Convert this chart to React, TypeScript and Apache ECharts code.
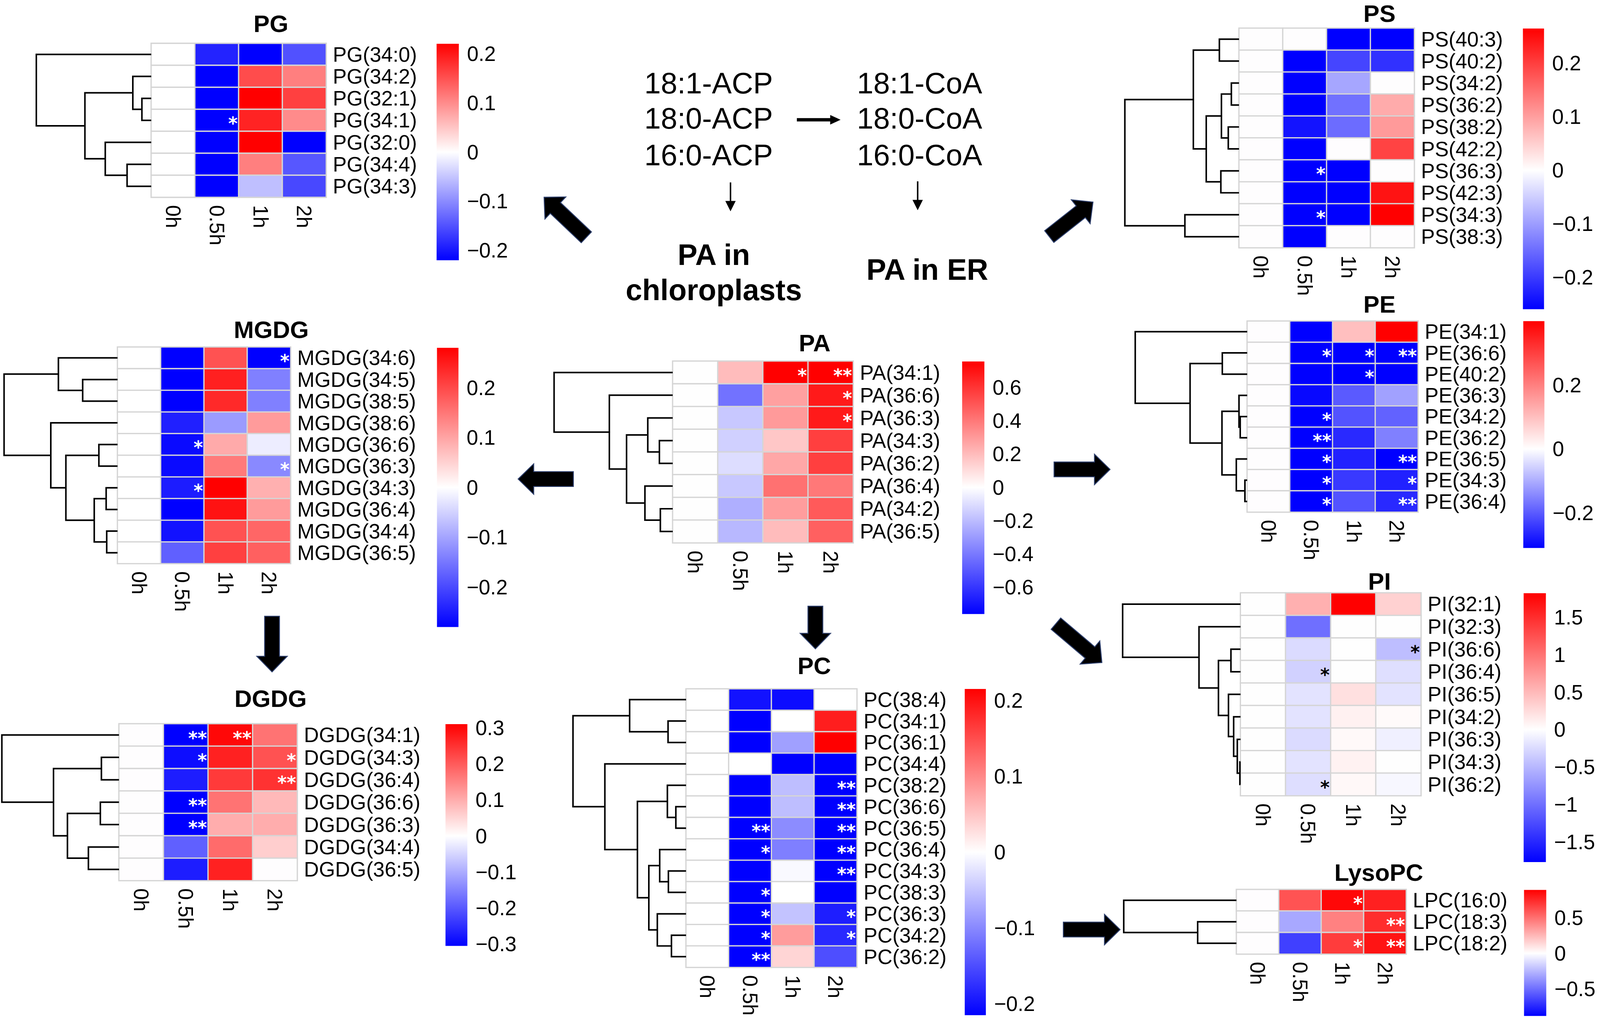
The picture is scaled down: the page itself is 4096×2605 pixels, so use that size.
import React, { useEffect, useRef } from 'react';
import * as echarts from 'echarts';

const S = 4096 / 4317;
const FONT = '"Liberation Sans", Arial, Helvetica, sans-serif';
const STAR_FONT = '"DejaVu Sans", "Liberation Sans", sans-serif';
const TIMES = ['0h', '0.5h', '1h', '2h'];

// ---------------- PG ----------------
const PG_ROWS = ['PG(34:0)', 'PG(34:2)', 'PG(32:1)', 'PG(34:1)', 'PG(32:0)', 'PG(34:4)', 'PG(34:3)'];
const PG_VALUES = [
  [0, -0.19, -0.22, -0.15],
  [0, -0.22, 0.155, 0.11],
  [0, -0.22, 0.22, 0.165],
  [0, -0.22, 0.19, 0.1],
  [0, -0.22, 0.22, -0.22],
  [0, -0.22, 0.11, -0.145],
  [0, -0.22, -0.055, -0.158],
];
const PG_STARS = [[3, 1, '*']];
const PG_MERGES = [[2, 3, 0.081], [1, 7, 0.16], [5, 6, 0.21], [4, 9, 0.4], [8, 10, 0.577], [0, 11, 1]];
const PG_RANGE = [-0.22, 0.22];
const PG_TICKS = [-0.2, -0.1, 0, 0.1, 0.2];

// ---------------- PS ----------------
const PS_ROWS = ['PS(40:3)', 'PS(40:2)', 'PS(34:2)', 'PS(36:2)', 'PS(38:2)', 'PS(42:2)', 'PS(36:3)', 'PS(42:3)', 'PS(34:3)', 'PS(38:3)'];
const PS_VALUES = [
  [0, 0, -0.26, -0.26],
  [0, -0.26, -0.19, -0.21],
  [0, -0.26, -0.09, 0],
  [0, -0.26, -0.145, 0.087],
  [0, -0.24, -0.15, 0.105],
  [0, -0.26, 0, 0.195],
  [0, -0.26, -0.26, 0],
  [0, -0.26, -0.26, 0.245],
  [0, -0.26, -0.26, 0.265],
  [0, -0.26, 0, 0],
];
const PS_STARS = [[6, 1, '*'], [8, 1, '*']];
const PS_MERGES = [[0, 1, 0.172], [2, 3, 0.067], [4, 5, 0.094], [11, 12, 0.154], [6, 7, 0.159], [13, 14, 0.287], [10, 15, 0.4], [8, 9, 0.474], [16, 17, 1]];
const PS_RANGE = [-0.26, 0.265];
const PS_TICKS = [-0.2, -0.1, 0, 0.1, 0.2];

// ---------------- MGDG ----------------
const MGDG_ROWS = ['MGDG(34:6)', 'MGDG(34:5)', 'MGDG(38:5)', 'MGDG(38:6)', 'MGDG(36:6)', 'MGDG(36:3)', 'MGDG(34:3)', 'MGDG(36:4)', 'MGDG(34:4)', 'MGDG(36:5)'];
const MGDG_VALUES = [
  [0, -0.28, 0.19, -0.28],
  [0, -0.28, 0.245, -0.14],
  [0, -0.28, 0.235, -0.14],
  [0, -0.245, -0.11, 0.11],
  [0, -0.27, 0.093, -0.02],
  [0, -0.27, 0.146, -0.13],
  [0, -0.25, 0.28, 0.087],
  [0, -0.28, 0.26, 0.11],
  [0, -0.26, 0.19, 0.168],
  [0, -0.175, 0.21, 0.175],
];
const MGDG_STARS = [[0, 3, '*'], [4, 1, '*'], [5, 3, '*'], [6, 1, '*']];
const MGDG_MERGES = [[1, 2, 0.307], [0, 10, 0.521], [4, 5, 0.164], [6, 7, 0.1], [8, 9, 0.095], [13, 14, 0.205], [12, 15, 0.455], [3, 16, 0.588], [11, 17, 1]];
const MGDG_RANGE = [-0.28, 0.28];
const MGDG_TICKS = [-0.2, -0.1, 0, 0.1, 0.2];

// ---------------- PA ----------------
const PA_ROWS = ['PA(34:1)', 'PA(36:6)', 'PA(36:3)', 'PA(34:3)', 'PA(36:2)', 'PA(36:4)', 'PA(34:2)', 'PA(36:5)'];
const PA_VALUES = [
  [0, 0.2, 0.755, 0.755],
  [0, -0.42, 0.28, 0.68],
  [0, -0.165, 0.3, 0.68],
  [0, -0.14, 0.165, 0.57],
  [0, -0.1, 0.26, 0.57],
  [0, -0.165, 0.42, 0.4],
  [0, -0.24, 0.29, 0.49],
  [0, -0.21, 0.2, 0.47],
];
const PA_STARS = [[0, 2, '*'], [0, 3, '**'], [1, 3, '*'], [2, 3, '*']];
const PA_MERGES = [[3, 4, 0.112], [2, 8, 0.21], [6, 7, 0.104], [5, 10, 0.234], [9, 11, 0.389], [1, 12, 0.534], [0, 13, 1]];
const PA_RANGE = [-0.76, 0.755];
const PA_TICKS = [-0.6, -0.4, -0.2, 0, 0.2, 0.4, 0.6];

// ---------------- PE ----------------
const PE_ROWS = ['PE(34:1)', 'PE(36:6)', 'PE(40:2)', 'PE(36:3)', 'PE(34:2)', 'PE(36:2)', 'PE(36:5)', 'PE(34:3)', 'PE(36:4)'];
const PE_VALUES = [
  [0, -0.31, 0.1, 0.4],
  [0, -0.31, -0.31, -0.31],
  [0, -0.31, -0.31, -0.31],
  [0, -0.3, -0.2, -0.115],
  [0, -0.31, -0.21, -0.19],
  [0, -0.31, -0.26, -0.155],
  [0, -0.31, -0.27, -0.31],
  [0, -0.31, -0.24, -0.27],
  [0, -0.31, -0.21, -0.26],
];
const PE_STARS = [[1, 1, '*'], [1, 2, '*'], [1, 3, '**'], [2, 2, '*'], [4, 1, '*'], [5, 1, '**'], [6, 1, '*'], [6, 3, '**'], [7, 1, '*'], [7, 3, '*'], [8, 1, '*'], [8, 3, '**']];
const PE_MERGES = [[1, 2, 0.222], [4, 5, 0.062], [3, 10, 0.073], [7, 8, 0.02], [6, 12, 0.097], [11, 13, 0.225], [9, 14, 0.51], [0, 15, 1]];
const PE_RANGE = [-0.31, 0.4];
const PE_TICKS = [-0.2, 0, 0.2];

// ---------------- DGDG ----------------
const DGDG_ROWS = ['DGDG(34:1)', 'DGDG(34:3)', 'DGDG(36:4)', 'DGDG(36:6)', 'DGDG(36:3)', 'DGDG(34:4)', 'DGDG(36:5)'];
const DGDG_VALUES = [
  [0, -0.305, 0.3, 0.17],
  [0, -0.29, 0.27, 0.21],
  [0, -0.27, 0.24, 0.25],
  [0, -0.305, 0.17, 0.085],
  [0, -0.305, 0.1, 0.1],
  [0, -0.19, 0.18, 0.06],
  [0, -0.27, 0.27, 0],
];
const DGDG_STARS = [[0, 1, '**'], [0, 2, '**'], [1, 1, '*'], [1, 3, '*'], [2, 3, '**'], [3, 1, '**'], [4, 1, '**']];
const DGDG_MERGES = [[1, 2, 0.15], [3, 4, 0.159], [5, 6, 0.261], [8, 9, 0.44], [7, 10, 0.559], [0, 11, 1]];
const DGDG_RANGE = [-0.305, 0.31];
const DGDG_TICKS = [-0.3, -0.2, -0.1, 0, 0.1, 0.2, 0.3];

// ---------------- PC ----------------
const PC_ROWS = ['PC(38:4)', 'PC(34:1)', 'PC(36:1)', 'PC(34:4)', 'PC(38:2)', 'PC(36:6)', 'PC(36:5)', 'PC(36:4)', 'PC(34:3)', 'PC(38:3)', 'PC(36:3)', 'PC(34:2)', 'PC(36:2)'];
const PC_VALUES = [
  [0, -0.2, -0.205, 0],
  [0, -0.215, 0, 0.19],
  [0, -0.215, -0.08, 0.215],
  [0, 0, -0.215, -0.215],
  [0, -0.215, -0.055, -0.215],
  [0, -0.215, -0.055, -0.215],
  [0, -0.215, -0.097, -0.215],
  [0, -0.215, -0.108, -0.215],
  [0, -0.215, -0.005, -0.215],
  [0, -0.215, 0, -0.215],
  [0, -0.215, -0.05, -0.19],
  [0, -0.215, 0.083, -0.18],
  [0, -0.215, 0.036, -0.15],
];
const PC_STARS = [[4, 3, '**'], [5, 3, '**'], [6, 1, '**'], [6, 3, '**'], [7, 1, '*'], [7, 3, '**'], [8, 3, '**'], [9, 1, '*'], [10, 1, '*'], [10, 3, '*'], [11, 1, '*'], [11, 3, '*'], [12, 1, '**']];
const PC_MERGES = [[1, 2, 0.159], [0, 13, 0.499], [5, 6, 0.09], [4, 15, 0.165], [8, 9, 0.156], [7, 17, 0.233], [11, 12, 0.129], [10, 19, 0.254], [18, 20, 0.329], [16, 21, 0.43], [3, 22, 0.718], [14, 23, 1]];
const PC_RANGE = [-0.215, 0.215];
const PC_TICKS = [-0.2, -0.1, 0, 0.1, 0.2];

// ---------------- PI ----------------
const PI_ROWS = ['PI(32:1)', 'PI(32:3)', 'PI(36:6)', 'PI(36:4)', 'PI(36:5)', 'PI(34:2)', 'PI(36:3)', 'PI(34:3)', 'PI(36:2)'];
const PI_VALUES = [
  [0, 0.56, 1.82, 0.33],
  [0, -1.0, 0, 0],
  [0, -0.25, 0, -0.45],
  [0, -0.32, 0, -0.22],
  [0, -0.19, 0.22, -0.19],
  [0, -0.19, 0.1, 0.03],
  [0, -0.25, 0.04, -0.1],
  [0, -0.19, 0.09, 0],
  [0, -0.23, 0.05, -0.06],
];
const PI_STARS = [[2, 3, '*'], [3, 1, '*'], [8, 1, '*']];
const PI_MERGES = [[2, 3, 0.081], [7, 8, 0.005], [6, 10, 0.027], [5, 11, 0.058], [4, 12, 0.102], [9, 13, 0.187], [1, 14, 0.352], [0, 15, 1]];
const PI_RANGE = [-1.77, 1.82];
const PI_TICKS = [-1.5, -1, -0.5, 0, 0.5, 1, 1.5];

// ---------------- LysoPC ----------------
const LPC_ROWS = ['LPC(16:0)', 'LPC(18:3)', 'LPC(18:2)'];
const LPC_VALUES = [
  [0, 0.6, 0.86, 0.78],
  [0, -0.3, 0.44, 0.73],
  [0, -0.66, 0.68, 0.82],
];
const LPC_STARS = [[0, 2, '*'], [1, 3, '**'], [2, 2, '*'], [2, 3, '**']];
const LPC_MERGES = [[1, 2, 0.344], [0, 3, 1]];
const LPC_RANGE = [-0.88, 0.89];
const LPC_TICKS = [-0.5, 0, 0.5];

// ---------------- pathway texts ----------------
const ACP_LABELS = ['18:1-ACP', '18:0-ACP', '16:0-ACP'];
const COA_LABELS = ['18:1-CoA', '18:0-CoA', '16:0-CoA'];

const PANELS = [
  { name: 'PG', rows: PG_ROWS, values: PG_VALUES, stars: PG_STARS, merges: PG_MERGES, range: PG_RANGE, ticks: PG_TICKS, starColor: '#ffffff' },
  { name: 'PS', rows: PS_ROWS, values: PS_VALUES, stars: PS_STARS, merges: PS_MERGES, range: PS_RANGE, ticks: PS_TICKS, starColor: '#ffffff' },
  { name: 'MGDG', rows: MGDG_ROWS, values: MGDG_VALUES, stars: MGDG_STARS, merges: MGDG_MERGES, range: MGDG_RANGE, ticks: MGDG_TICKS, starColor: '#ffffff' },
  { name: 'PA', rows: PA_ROWS, values: PA_VALUES, stars: PA_STARS, merges: PA_MERGES, range: PA_RANGE, ticks: PA_TICKS, starColor: '#ffffff' },
  { name: 'PE', rows: PE_ROWS, values: PE_VALUES, stars: PE_STARS, merges: PE_MERGES, range: PE_RANGE, ticks: PE_TICKS, starColor: '#ffffff' },
  { name: 'DGDG', rows: DGDG_ROWS, values: DGDG_VALUES, stars: DGDG_STARS, merges: DGDG_MERGES, range: DGDG_RANGE, ticks: DGDG_TICKS, starColor: '#ffffff' },
  { name: 'PC', rows: PC_ROWS, values: PC_VALUES, stars: PC_STARS, merges: PC_MERGES, range: PC_RANGE, ticks: PC_TICKS, starColor: '#ffffff' },
  { name: 'PI', rows: PI_ROWS, values: PI_VALUES, stars: PI_STARS, merges: PI_MERGES, range: PI_RANGE, ticks: PI_TICKS, starColor: '#000000' },
  { name: 'LysoPC', rows: LPC_ROWS, values: LPC_VALUES, stars: LPC_STARS, merges: LPC_MERGES, range: LPC_RANGE, ticks: LPC_TICKS, starColor: '#ffffff' },
];

// layout in reference pixels (4317 x 2746)
const LAYOUT: Record<string, any> = {
  PG: { hm: [408, 117, 880, 532], root: 98, cb: [1178, 118, 1238, 702], title: [731, 64] },
  PS: { hm: [3343, 76, 3816, 668], root: 3035, cb: [4109, 77, 4166, 834], title: [3722, 36] },
  MGDG: { hm: [317, 936, 784, 1520], root: 11, cb: [1179, 938, 1237, 1691], title: [732, 889] },
  PA: { hm: [1815, 974, 2302, 1464], root: 1495, cb: [2596, 975, 2656, 1656], title: [2198, 925] },
  PE: { hm: [3365, 866, 3826, 1381], root: 3063, cb: [4110, 866, 4167, 1478], title: [3722, 821] },
  DGDG: { hm: [321, 1952, 802, 2375], root: 5, cb: [1202, 1953, 1261, 2551], title: [730, 1884] },
  PC: { hm: [1851, 1858, 2312, 2609], root: 1546, cb: [2603, 1858, 2660, 2738], title: [2197, 1795] },
  PI: { hm: [3347, 1599, 3834, 2146], root: 3029, cb: [4111, 1600, 4171, 2325], title: [3722, 1568] },
  LysoPC: { hm: [3336, 2399, 3794, 2573], root: 3032, cb: [4112, 2400, 4172, 2740], title: [3720, 2353] },
};

const BIG_ARROWS = [
  [[1582, 640], [1468, 532]],
  [[2831, 638], [2949, 545]],
  [[1547, 1292], [1398, 1292]],
  [[2844, 1266], [2995, 1266]],
  [[734, 1662], [734, 1812]],
  [[2200, 1635], [2200, 1750]],
  [[2849, 1682], [2973, 1787]],
  [[2869, 2507], [3022, 2507]],
];

function palette(min: number, max: number, n = 121) {
  const out: string[] = [];
  for (let i = 0; i < n; i++) {
    const v = min + ((max - min) * i) / (n - 1);
    let r: number, g: number, b: number;
    if (v < 0) {
      const t = v / min;
      r = g = Math.round(255 * (1 - t));
      b = 255;
    } else {
      const t = v / max;
      r = 255;
      g = b = Math.round(255 * (1 - t));
    }
    out.push(`rgb(${r},${g},${b})`);
  }
  return out;
}

function dendroSegments(n: number, merges: number[][]) {
  const pos: number[][] = [];
  for (let i = 0; i < n; i++) pos.push([0, i]);
  const segs: number[][][] = [];
  merges.forEach(([a, b, h]) => {
    const pa = pos[a];
    const pb = pos[b];
    segs.push([[pa[0], pa[1]], [h, pa[1]], [h, pb[1]], [pb[0], pb[1]]]);
    pos.push([h, (pa[1] + pb[1]) / 2]);
  });
  return segs;
}

function arrowPoints(tail: number[], tip: number[], sw: number, hw: number, hl: number) {
  const dx = tip[0] - tail[0];
  const dy = tip[1] - tail[1];
  const len = Math.hypot(dx, dy);
  const ux = dx / len;
  const uy = dy / len;
  const nx = -uy;
  const ny = ux;
  const bx = tip[0] - ux * hl;
  const by = tip[1] - uy * hl;
  return [
    [tail[0] + (nx * sw) / 2, tail[1] + (ny * sw) / 2],
    [bx + (nx * sw) / 2, by + (ny * sw) / 2],
    [bx + (nx * hw) / 2, by + (ny * hw) / 2],
    [tip[0], tip[1]],
    [bx - (nx * hw) / 2, by - (ny * hw) / 2],
    [bx - (nx * sw) / 2, by - (ny * sw) / 2],
    [tail[0] - (nx * sw) / 2, tail[1] - (ny * sw) / 2],
  ].map(([x, y]) => [x * S, y * S]);
}

const fmtTick = (v: number) => (v < 0 ? '\u2212' + String(Math.abs(v)) : String(v));

function buildOption() {
  const grid: any[] = [];
  const xAxis: any[] = [];
  const yAxis: any[] = [];
  const series: any[] = [];
  const visualMap: any[] = [];
  const graphic: any[] = [];
  const LABEL_FS = 56 * S;
  const STAR_FS = 46;

  PANELS.forEach((p) => {
    const L = LAYOUT[p.name];
    const [hl, ht, hr, hb] = L.hm;
    const n = p.rows.length;
    const [rmin, rmax] = p.range;

    // heatmap grid
    const gH = grid.length;
    grid.push({ left: hl * S, top: ht * S, width: (hr - hl) * S, height: (hb - ht) * S, containLabel: false, outerBoundsMode: 'none' });
    xAxis.push({
      type: 'category', gridIndex: gH, data: TIMES, position: 'bottom',
      axisLine: { show: false }, axisTick: { show: false }, splitLine: { show: false },
      axisLabel: { rotate: -90, margin: 21 * S, fontSize: LABEL_FS, color: '#000', fontFamily: FONT, interval: 0 },
    });
    yAxis.push({
      type: 'category', gridIndex: gH, data: p.rows, inverse: true, position: 'right',
      axisLine: { show: false }, axisTick: { show: false }, splitLine: { show: false },
      axisLabel: { margin: 18 * S, fontSize: LABEL_FS, color: '#000', fontFamily: FONT, interval: 0 },
    });
    const starMap: Record<string, string> = {};
    p.stars.forEach(([r, c, s]: any) => { starMap[r + '_' + c] = s; });
    const items: any[] = [];
    p.values.forEach((row, r) => row.forEach((v, c) => {
      items.push({ value: [c, r, v], star: starMap[r + '_' + c] || '' });
    }));
    const hmIndex = series.length;
    series.push({
      type: 'heatmap', xAxisIndex: gH, yAxisIndex: gH, data: items,
      itemStyle: { borderColor: '#d5d5d5', borderWidth: 3.3 },
      label: {
        show: true, formatter: (prm: any) => prm.data.star || '', position: 'insideRight', distance: 5 * S,
        color: p.starColor, fontSize: STAR_FS, lineHeight: STAR_FS, fontWeight: 'bold', fontFamily: STAR_FONT,
        offset: [0, 0.17 * STAR_FS],
      },
      emphasis: { disabled: true }, silent: true,
    });
    visualMap.push({
      type: 'continuous', show: false, seriesIndex: hmIndex, dimension: 2, min: rmin, max: rmax,
      inRange: { color: palette(rmin, rmax) },
    });

    // dendrogram grid
    const gD = grid.length;
    grid.push({ left: L.root * S, top: ht * S, width: (hl - L.root) * S, height: (hb - ht) * S, containLabel: false, outerBoundsMode: 'none' });
    xAxis.push({ type: 'value', gridIndex: gD, min: 0, max: 1, inverse: true, show: false });
    yAxis.push({ type: 'value', gridIndex: gD, min: -0.5, max: n - 0.5, inverse: true, show: false });
    series.push({
      type: 'lines', coordinateSystem: 'cartesian2d', xAxisIndex: gD, yAxisIndex: gD, polyline: true,
      data: dendroSegments(n, p.merges).map((c) => ({ coords: c })),
      lineStyle: { color: '#000', width: 4.2 * S, opacity: 1, join: 'miter' }, silent: true,
    });

    // colour bar grid
    const [cl, ct, cr, cb] = L.cb;
    const gC = grid.length;
    grid.push({ left: cl * S, top: ct * S, width: (cr - cl) * S, height: (cb - ct) * S, containLabel: false, outerBoundsMode: 'none' });
    xAxis.push({ type: 'value', gridIndex: gC, min: 0, max: 1, show: false });
    yAxis.push({
      type: 'value', gridIndex: gC, min: rmin, max: rmax, position: 'right',
      axisLine: { show: false }, axisTick: { show: false }, splitLine: { show: false },
      axisLabel: { customValues: p.ticks, formatter: fmtTick, margin: 22 * S, fontSize: LABEL_FS, color: '#000', fontFamily: FONT },
    });
    const zeroOff = rmax / (rmax - rmin);
    series.push({
      type: 'custom', xAxisIndex: gC, yAxisIndex: gC, silent: true, clip: false,
      data: [[0, rmin, 1, rmax]],
      renderItem: (_params: any, api: any) => {
        const a = api.coord([api.value(0), api.value(3)]);
        const b = api.coord([api.value(2), api.value(1)]);
        return {
          type: 'rect',
          shape: { x: a[0], y: a[1], width: b[0] - a[0], height: b[1] - a[1] },
          style: {
            fill: new echarts.graphic.LinearGradient(0, 0, 0, 1, [
              { offset: 0, color: '#ff0000' },
              { offset: zeroOff, color: '#ffffff' },
              { offset: 1, color: '#0000ff' },
            ]),
          },
        };
      },
    });

    // title
    graphic.push({
      type: 'text', x: L.title[0] * S, y: L.title[1] * S, silent: true,
      style: { text: p.name, fill: '#000', fontSize: 65 * S, fontWeight: 'bold', fontFamily: FONT, align: 'center', verticalAlign: 'middle' },
    });
  });

  // pathway text
  const lineYs = [224, 319, 418];
  ACP_LABELS.forEach((t, i) => graphic.push({
    type: 'text', x: 1912 * S, y: lineYs[i] * S, silent: true,
    style: { text: t, fill: '#000', fontSize: 80 * S, fontFamily: FONT, align: 'center', verticalAlign: 'middle' },
  }));
  COA_LABELS.forEach((t, i) => graphic.push({
    type: 'text', x: 2481 * S, y: lineYs[i] * S, silent: true,
    style: { text: t, fill: '#000', fontSize: 80 * S, fontFamily: FONT, align: 'center', verticalAlign: 'middle' },
  }));
  const boldTexts: [string, number, number][] = [['PA in', 1926, 687], ['chloroplasts', 1926, 781], ['PA in ER', 2502, 727]];
  boldTexts.forEach(([t, x, y]) => graphic.push({
    type: 'text', x: x * S, y: y * S, silent: true,
    style: { text: t, fill: '#000', fontSize: 80 * S, fontWeight: 'bold', fontFamily: FONT, align: 'center', verticalAlign: 'middle' },
  }));

  // thin arrows
  const thin: [number[], number[], number, number, number][] = [
    [[2150, 323], [2268, 323], 9, 26, 28],
    [[1971, 492], [1971, 570], 4, 28, 28],
    [[2476, 489], [2476, 567], 4, 28, 28],
  ];
  thin.forEach(([a, b, sw, hw, hl]) => graphic.push({
    type: 'polygon', silent: true, shape: { points: arrowPoints(a, b, sw, hw, hl) }, style: { fill: '#000' },
  }));
  // block arrows
  BIG_ARROWS.forEach(([a, b]) => graphic.push({
    type: 'polygon', silent: true, shape: { points: arrowPoints(a, b, 40, 82, 42) },
    style: { fill: '#000', stroke: '#2b3d6b', lineWidth: 2.5 * S, lineJoin: 'miter' },
  }));

  return {
    animation: false,
    backgroundColor: '#ffffff',
    textStyle: { fontFamily: FONT },
    grid, xAxis, yAxis, series, visualMap, graphic,
  };
}

export default function App() {
  const ref = useRef<HTMLDivElement>(null);
  useEffect(() => {
    document.body.style.margin = '0';
    const chart = echarts.init(ref.current as HTMLDivElement, null, { renderer: 'svg', width: 4096, height: 2605 });
    chart.setOption(buildOption() as any);
    return () => chart.dispose();
  }, []);
  return <div ref={ref} style={{ position: 'absolute', left: 0, top: 0, width: 4096, height: 2605 }} />;
}
